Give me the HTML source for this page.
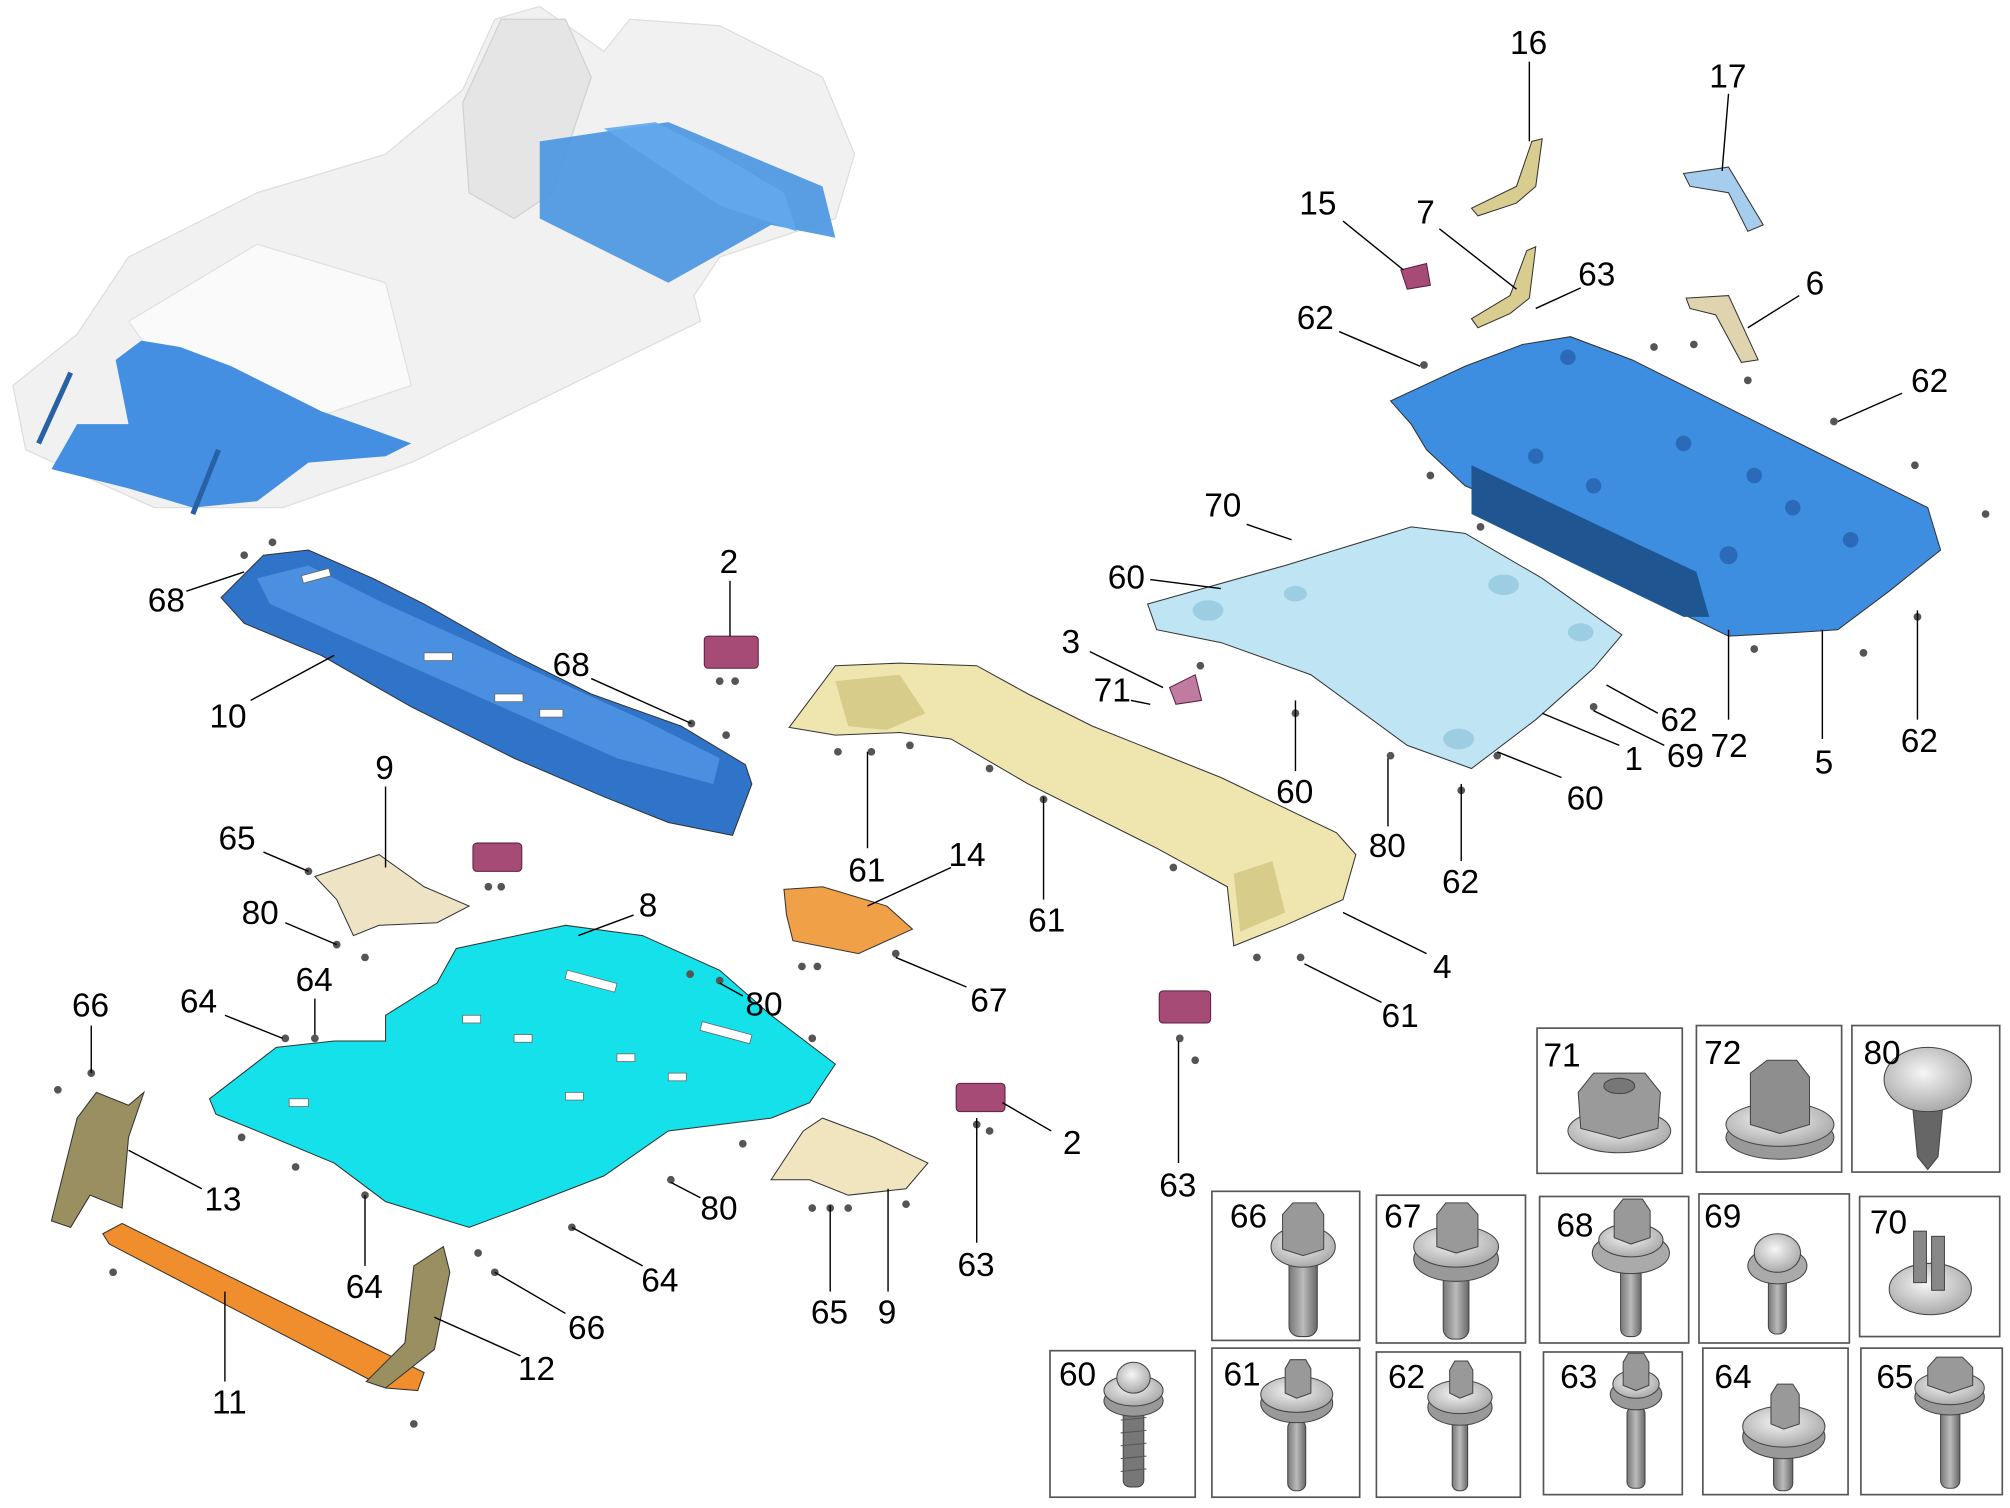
<!DOCTYPE html>
<html><head><meta charset="utf-8"><style>
html,body{margin:0;padding:0;background:#fff;}
svg{display:block}
text{font-family:"Liberation Sans",Arial,sans-serif;font-size:26px;fill:#000}
.l{stroke:#000;stroke-width:1.1;fill:none}
.box{fill:#fff;stroke:#555;stroke-width:1.3}
.p{stroke:#333;stroke-width:0.8}
.h{fill:#fff;stroke:#666;stroke-width:0.6}
.b{fill:#555}
</style></head><body>
<svg width="2010" height="1508" viewBox="0 0 1564 1173.4" xmlns="http://www.w3.org/2000/svg">
<defs>
<linearGradient id="met" x1="0" x2="1"><stop offset="0" stop-color="#777"/><stop offset="0.5" stop-color="#bbb"/><stop offset="1" stop-color="#666"/></linearGradient>
<radialGradient id="wash" cx="0.45" cy="0.4" r="0.6"><stop offset="0" stop-color="#f6f6f6"/><stop offset="1" stop-color="#aaa"/></radialGradient>
</defs>

<!-- car body -->
<g opacity="0.95">
<polygon points="10,300 60,260 100,200 200,150 300,120 360,70 385,15 420,5 470,40 490,15 560,20 640,60 665,120 650,170 560,200 540,230 545,250 320,360 220,395 120,395 20,350" fill="#f1f1f1" stroke="#ddd"/>
<polygon points="360,80 390,15 440,15 460,60 430,150 400,170 365,150" fill="#e4e4e4" stroke="#d0d0d0"/>
<polygon points="100,250 200,190 300,220 320,300 230,330 150,320" fill="#fafafa" stroke="#e0e0e0"/>
<polygon points="420,110 520,95 640,145 650,185 600,175 520,220 480,200 420,170" fill="#3f8fe0" opacity="0.9"/>
<polygon points="470,100 510,95 560,120 610,150 620,180 560,160" fill="#5aa4ec" opacity="0.9"/>
<polygon points="40,365 60,330 100,330 90,280 110,265 140,270 180,285 250,320 320,345 300,355 240,360 200,390 150,395 100,380" fill="#3a8ae0"/>
<line x1="30" y1="345" x2="55" y2="290" stroke="#1d5aa0" stroke-width="4"/>
<line x1="150" y1="400" x2="170" y2="350" stroke="#1d5aa0" stroke-width="4"/>
</g>

<!-- part 10 -->
<polygon class="p" points="172,465 205,432 240,428 290,450 330,470 400,510 460,540 530,565 580,595 585,610 570,650 520,640 470,620 400,590 320,550 250,510 190,485" fill="#2f74c8"/>
<polygon points="200,450 240,440 300,470 500,560 560,590 555,610 480,590 300,510 210,470" fill="#4a8fe0"/>
<g class="h"><rect x="235" y="445" width="22" height="6" transform="rotate(-15 246 448)"/><rect x="330" y="508" width="22" height="6"/><rect x="385" y="540" width="22" height="6"/><rect x="420" y="552" width="18" height="6"/></g>
<!-- part 5 -->
<polygon class="p" points="1082,312 1140,285 1185,268 1222,262 1270,280 1330,310 1400,345 1460,375 1500,395 1510,428 1470,460 1430,490 1400,492 1345,495 1310,478 1290,450 1240,420 1180,395 1140,378 1110,350 1098,330" fill="#3d8de0"/>
<polygon points="1145,362 1320,445 1330,480 1310,480 1145,400" fill="#1f5590"/>
<g fill="#2a6ab8"><circle cx="1220" cy="278" r="6"/><circle cx="1195" cy="355" r="6"/><circle cx="1240" cy="378" r="6"/><circle cx="1310" cy="345" r="6"/><circle cx="1365" cy="370" r="6"/><circle cx="1345" cy="432" r="7"/><circle cx="1395" cy="395" r="6"/><circle cx="1440" cy="420" r="6"/></g>
<!-- part 1 -->
<polygon class="p" points="893,470 1000,440 1098,410 1140,415 1200,450 1262,494 1240,520 1195,560 1145,598 1095,580 1020,525 950,500 900,490" fill="#bfe4f4"/>
<g fill="#9ccde3"><ellipse cx="940" cy="475" rx="12" ry="8"/><ellipse cx="1170" cy="455" rx="12" ry="8"/><ellipse cx="1135" cy="575" rx="12" ry="8"/><ellipse cx="1230" cy="492" rx="10" ry="7"/><ellipse cx="1008" cy="462" rx="9" ry="6"/></g>
<!-- part 4 -->
<polygon class="p" points="614,566 650,518 700,516 760,518 800,540 850,565 950,605 1040,648 1055,665 1045,700 1000,720 960,736 955,690 900,660 800,610 740,575 700,570 650,572" fill="#efe5ae"/>
<polygon points="650,530 700,525 720,555 690,568 660,565" fill="#d8cc8a"/>
<polygon points="960,680 990,670 1000,710 965,725" fill="#d8cc8a"/>
<!-- part 8 -->
<polygon class="p" points="163,855 215,815 260,810 300,810 300,790 340,765 355,738 440,720 500,728 560,755 600,790 650,828 630,858 600,870 520,880 470,915 400,942 365,955 300,935 260,905 200,880 168,867" fill="#14e1ea"/>
<g class="h"><rect x="440" y="760" width="40" height="7" transform="rotate(15 460 763)"/><rect x="545" y="800" width="40" height="7" transform="rotate(15 565 803)"/><rect x="225" y="855" width="15" height="6"/><rect x="480" y="820" width="14" height="6"/><rect x="520" y="835" width="14" height="6"/><rect x="440" y="850" width="14" height="6"/><rect x="360" y="790" width="14" height="6"/><rect x="400" y="805" width="14" height="6"/></g>
<!-- part 9 -->
<polygon class="p" points="245,682 295,665 330,690 365,705 340,718 295,720 275,728 262,700" fill="#efe3c6"/>
<polygon class="p" points="600,918 625,880 640,870 680,885 722,905 705,925 660,930 630,918" fill="#f1e5c0"/>
<!-- part 14 -->
<polygon class="p" points="610,692 640,690 690,705 710,723 668,742 617,732 612,712" fill="#f0a047"/>
<!-- parts 2 etc -->
<g fill="#a64b76" stroke="#5a2040" stroke-width="0.8">
<rect x="548" y="495" width="42" height="25" rx="3"/>
<rect x="368" y="656" width="38" height="22" rx="3"/>
<rect x="744" y="843" width="38" height="22" rx="3"/>
<rect x="902" y="771" width="40" height="25" rx="3"/>
<polygon points="1090,210 1110,205 1113,222 1095,225"/>
<polygon points="910,535 930,525 935,545 915,548" fill="#c07ba0"/>
</g>
<!-- brackets -->
<polygon class="p" points="1145,162 1180,145 1192,110 1200,108 1195,145 1180,158 1150,168" fill="#d9cc8f"/>
<polygon class="p" points="1145,248 1175,230 1188,195 1195,192 1190,232 1175,244 1150,255" fill="#d9cc8f"/>
<polygon class="p" points="1310,135 1345,130 1372,175 1360,180 1345,150 1315,145" fill="#a6ccee"/>
<polygon class="p" points="1312,232 1345,230 1368,280 1355,282 1335,245 1315,240" fill="#e0d3b0"/>
<!-- 11,12,13 -->
<polygon class="p" points="80,960 95,952 330,1068 325,1082 300,1080 85,968" fill="#f08d2c"/>
<polygon class="p" points="40,950 60,870 75,850 100,860 112,850 100,885 95,940 70,930 55,955" fill="#9a8f60"/>
<polygon class="p" points="285,1075 315,1045 322,985 345,970 350,990 338,1050 300,1080" fill="#9a8f60"/>

<!-- small fasteners -->
<g class="b">
<circle cx="190" cy="432" r="3"/><circle cx="212" cy="422" r="3"/><circle cx="538" cy="563" r="3"/><circle cx="565" cy="572" r="3"/>
<circle cx="560" cy="530" r="3"/><circle cx="572" cy="530" r="3"/><circle cx="380" cy="690" r="3"/><circle cx="390" cy="690" r="3"/>
<circle cx="652" cy="585" r="3"/><circle cx="678" cy="585" r="3"/><circle cx="708" cy="580" r="3"/><circle cx="770" cy="598" r="3"/><circle cx="812" cy="622" r="3"/><circle cx="913" cy="675" r="3"/><circle cx="978" cy="745" r="3"/><circle cx="1012" cy="745" r="3"/>
<circle cx="934" cy="518" r="3"/><circle cx="1008" cy="555" r="3"/><circle cx="1082" cy="588" r="3"/><circle cx="1137" cy="615" r="3"/><circle cx="1165" cy="588" r="3"/><circle cx="1240" cy="550" r="3"/>
<circle cx="1113" cy="370" r="3"/><circle cx="1152" cy="410" r="3"/><circle cx="1365" cy="505" r="3"/><circle cx="1450" cy="508" r="3"/><circle cx="1492" cy="480" r="3"/><circle cx="1545" cy="400" r="3"/><circle cx="1490" cy="362" r="3"/><circle cx="1108" cy="284" r="3"/><circle cx="1427" cy="328" r="3"/><circle cx="1360" cy="296" r="3"/><circle cx="1318" cy="268" r="3"/><circle cx="1287" cy="270" r="3"/>
<circle cx="624" cy="752" r="3"/><circle cx="636" cy="752" r="3"/><circle cx="697" cy="742" r="3"/><circle cx="918" cy="808" r="3"/><circle cx="930" cy="825" r="3"/>
<circle cx="760" cy="875" r="3"/><circle cx="770" cy="880" r="3"/><circle cx="632" cy="940" r="3"/><circle cx="646" cy="940" r="3"/><circle cx="660" cy="940" r="3"/><circle cx="705" cy="937" r="3"/>
<circle cx="240" cy="678" r="3"/><circle cx="262" cy="735" r="3"/><circle cx="284" cy="745" r="3"/><circle cx="222" cy="808" r="3"/><circle cx="245" cy="808" r="3"/><circle cx="188" cy="885" r="3"/><circle cx="230" cy="908" r="3"/><circle cx="284" cy="930" r="3"/><circle cx="445" cy="955" r="3"/><circle cx="522" cy="918" r="3"/><circle cx="578" cy="890" r="3"/><circle cx="537" cy="758" r="3"/><circle cx="560" cy="763" r="3"/><circle cx="632" cy="808" r="3"/>
<circle cx="71" cy="835" r="3"/><circle cx="45" cy="848" r="3"/><circle cx="88" cy="990" r="3"/><circle cx="322" cy="1108" r="3"/><circle cx="385" cy="990" r="3"/><circle cx="372" cy="975" r="3"/>
</g>

<!-- leader lines -->
<g class="l">
<line x1="1190" y1="48" x2="1190" y2="110"/>
<line x1="1345" y1="73" x2="1340" y2="133"/>
<line x1="1045" y1="172" x2="1092" y2="210"/>
<line x1="1120" y1="178" x2="1180" y2="225"/>
<line x1="1230" y1="224" x2="1195" y2="240"/>
<line x1="1400" y1="230" x2="1360" y2="255"/>
<line x1="1042" y1="258" x2="1105" y2="285"/>
<line x1="1480" y1="306" x2="1430" y2="328"/>
<line x1="970" y1="408" x2="1005" y2="420"/>
<line x1="895" y1="451" x2="950" y2="458"/>
<line x1="848" y1="507" x2="905" y2="535"/>
<line x1="880" y1="545" x2="895" y2="548"/>
<line x1="1290" y1="555" x2="1250" y2="533"/>
<line x1="1295" y1="580" x2="1240" y2="553"/>
<line x1="1345" y1="560" x2="1345" y2="490"/>
<line x1="1260" y1="580" x2="1200" y2="555"/>
<line x1="1418" y1="575" x2="1418" y2="490"/>
<line x1="1492" y1="560" x2="1492" y2="475"/>
<line x1="1008" y1="600" x2="1008" y2="545"/>
<line x1="1215" y1="605" x2="1165" y2="585"/>
<line x1="1080" y1="643" x2="1080" y2="590"/>
<line x1="1137" y1="670" x2="1137" y2="610"/>
<line x1="1110" y1="742" x2="1045" y2="710"/>
<line x1="1075" y1="780" x2="1015" y2="750"/>
<line x1="675" y1="660" x2="675" y2="585"/>
<line x1="812" y1="700" x2="812" y2="620"/>
<line x1="740" y1="675" x2="675" y2="705"/>
<line x1="752" y1="768" x2="697" y2="745"/>
<line x1="917" y1="905" x2="917" y2="810"/>
<line x1="568" y1="452" x2="568" y2="495"/>
<line x1="145" y1="460" x2="190" y2="445"/>
<line x1="460" y1="528" x2="538" y2="563"/>
<line x1="195" y1="545" x2="260" y2="510"/>
<line x1="300" y1="612" x2="300" y2="675"/>
<line x1="205" y1="663" x2="240" y2="678"/>
<line x1="222" y1="718" x2="262" y2="735"/>
<line x1="493" y1="712" x2="450" y2="728"/>
<line x1="578" y1="775" x2="560" y2="765"/>
<line x1="245" y1="777" x2="245" y2="805"/>
<line x1="175" y1="790" x2="220" y2="808"/>
<line x1="71" y1="798" x2="71" y2="835"/>
<line x1="157" y1="925" x2="100" y2="895"/>
<line x1="545" y1="932" x2="522" y2="920"/>
<line x1="818" y1="880" x2="780" y2="858"/>
<line x1="760" y1="967" x2="760" y2="870"/>
<line x1="284" y1="985" x2="284" y2="930"/>
<line x1="500" y1="985" x2="445" y2="955"/>
<line x1="440" y1="1022" x2="385" y2="990"/>
<line x1="646" y1="1005" x2="646" y2="938"/>
<line x1="691" y1="1005" x2="691" y2="925"/>
<line x1="405" y1="1055" x2="338" y2="1025"/>
<line x1="175" y1="1075" x2="175" y2="1005"/>
</g>

<!-- detail boxes -->
<g>
<rect class="box" x="1196" y="800" width="113" height="113"/>
<rect class="box" x="1320" y="798" width="113" height="114"/>
<rect class="box" x="1441" y="798" width="115" height="114"/>
<rect class="box" x="943" y="927" width="115" height="116"/>
<rect class="box" x="1071" y="930" width="116" height="115"/>
<rect class="box" x="1198" y="931" width="116" height="114"/>
<rect class="box" x="1322" y="929" width="117" height="116"/>
<rect class="box" x="1447" y="931" width="109" height="109"/>
<rect class="box" x="817" y="1051" width="113" height="114"/>
<rect class="box" x="943" y="1049" width="115" height="116"/>
<rect class="box" x="1071" y="1052" width="112" height="113"/>
<rect class="box" x="1201" y="1052" width="108" height="111"/>
<rect class="box" x="1325" y="1049" width="113" height="114"/>
<rect class="box" x="1448" y="1049" width="110" height="114"/>
</g>
<!-- fasteners -->
<g stroke="#444" stroke-width="0.8">
<ellipse cx="1260" cy="880" rx="40" ry="17" fill="url(#wash)"/>
<polygon points="1228,850 1240,835 1280,835 1292,850 1290,878 1260,886 1230,878" fill="#9a9a9a"/>
<ellipse cx="1260" cy="845" rx="12" ry="6" fill="#777"/>
<ellipse cx="1385" cy="885" rx="42" ry="17" fill="#999"/>
<ellipse cx="1385" cy="875" rx="42" ry="17" fill="url(#wash)"/>
<polygon points="1362,835 1375,825 1398,825 1408,838 1408,875 1385,882 1362,875" fill="#8e8e8e"/>
<polygon points="1488,858 1512,858 1508,900 1500,910 1492,900" fill="#666"/>
<ellipse cx="1500" cy="840" rx="34" ry="25" fill="url(#wash)"/>
<!-- 66 -->
<rect x="1003" y="975" width="22" height="65" rx="8" fill="url(#met)"/>
<ellipse cx="1014" cy="970" rx="25" ry="16" fill="url(#wash)"/>
<polygon points="998,945 1006,936 1024,936 1030,945 1030,972 1014,977 998,972" fill="#999"/>
<!-- 67 -->
<rect x="1123" y="985" width="20" height="57" rx="8" fill="url(#met)"/>
<ellipse cx="1133" cy="980" rx="33" ry="17" fill="#999"/>
<ellipse cx="1133" cy="970" rx="33" ry="16" fill="url(#wash)"/>
<polygon points="1118,945 1125,936 1142,936 1150,945 1150,970 1133,975 1118,970" fill="#999"/>
<!-- 68 -->
<rect x="1261" y="985" width="16" height="55" rx="6" fill="url(#met)"/>
<ellipse cx="1269" cy="975" rx="30" ry="16" fill="#aaa"/>
<ellipse cx="1269" cy="965" rx="25" ry="13" fill="url(#wash)"/>
<polygon points="1256,942 1263,933 1278,933 1284,942 1284,963 1269,968 1256,963" fill="#999"/>
<!-- 69 -->
<rect x="1376" y="990" width="14" height="48" rx="6" fill="url(#met)"/>
<ellipse cx="1383" cy="985" rx="23" ry="14" fill="#aaa"/>
<ellipse cx="1383" cy="975" rx="18" ry="15" fill="url(#wash)"/>
<!-- 70 -->
<ellipse cx="1502" cy="1003" rx="32" ry="20" fill="url(#wash)"/>
<rect x="1489" y="958" width="10" height="40" fill="#888"/>
<rect x="1503" y="962" width="10" height="42" fill="#888"/>
<!-- 60 -->
<rect x="874" y="1095" width="16" height="62" rx="5" fill="#777"/>
<g stroke="#555">
<line x1="872" y1="1105" x2="892" y2="1103"/><line x1="872" y1="1115" x2="892" y2="1113"/><line x1="872" y1="1125" x2="892" y2="1123"/><line x1="872" y1="1135" x2="892" y2="1133"/><line x1="872" y1="1145" x2="892" y2="1143"/>
</g>
<ellipse cx="882" cy="1090" rx="23" ry="12" fill="#999"/>
<ellipse cx="882" cy="1082" rx="23" ry="12" fill="url(#wash)"/>
<ellipse cx="882" cy="1072" rx="13" ry="12" fill="url(#wash)"/>
<!-- 61 -->
<rect x="1002" y="1105" width="14" height="55" rx="6" fill="url(#met)"/>
<ellipse cx="1009" cy="1092" rx="28" ry="15" fill="#999"/>
<ellipse cx="1009" cy="1085" rx="28" ry="14" fill="url(#wash)"/>
<polygon points="1000,1065 1004,1058 1016,1058 1020,1065 1020,1084 1009,1088 1000,1084" fill="#999"/>
<!-- 62 -->
<rect x="1130" y="1100" width="12" height="60" rx="5" fill="url(#met)"/>
<ellipse cx="1136" cy="1095" rx="25" ry="14" fill="#999"/>
<ellipse cx="1136" cy="1087" rx="25" ry="13" fill="url(#wash)"/>
<polygon points="1128,1066 1132,1059 1142,1059 1146,1066 1146,1084 1136,1088 1128,1084" fill="#999"/>
<!-- 63 -->
<rect x="1266" y="1095" width="14" height="63" rx="5" fill="url(#met)"/>
<ellipse cx="1273" cy="1085" rx="20" ry="12" fill="#999"/>
<ellipse cx="1273" cy="1077" rx="18" ry="11" fill="url(#wash)"/>
<polygon points="1263,1060 1267,1053 1279,1053 1283,1060 1283,1078 1273,1082 1263,1078" fill="#999"/>
<!-- 64 -->
<rect x="1380" y="1125" width="15" height="35" rx="6" fill="url(#met)"/>
<ellipse cx="1388" cy="1118" rx="32" ry="17" fill="#999"/>
<ellipse cx="1388" cy="1110" rx="32" ry="16" fill="url(#wash)"/>
<polygon points="1378,1085 1383,1077 1395,1077 1400,1085 1400,1108 1388,1112 1378,1108" fill="#999"/>
<!-- 65 -->
<rect x="1510" y="1095" width="15" height="63" rx="6" fill="url(#met)"/>
<ellipse cx="1517" cy="1087" rx="27" ry="14" fill="#999"/>
<ellipse cx="1517" cy="1080" rx="27" ry="13" fill="url(#wash)"/>
<polygon points="1500,1064 1507,1056 1527,1056 1535,1064 1535,1078 1517,1084 1500,1078" fill="#999"/>
</g>

<!-- labels -->
<g>
<text x="1175" y="42">16</text><text x="1330" y="68">17</text><text x="1011" y="167">15</text>
<text x="1102" y="174">7</text><text x="1228" y="222">63</text><text x="1405" y="229">6</text>
<text x="1009" y="256">62</text><text x="1487" y="305">62</text><text x="937" y="402">70</text>
<text x="862" y="458">60</text><text x="826" y="508">3</text><text x="851" y="546">71</text>
<text x="1292" y="569">62</text><text x="1297" y="597">69</text><text x="1331" y="589">72</text>
<text x="1264" y="599">1</text><text x="1412" y="602">5</text><text x="1479" y="585">62</text>
<text x="993" y="625">60</text><text x="1219" y="630">60</text><text x="1065" y="667">80</text>
<text x="1122" y="695">62</text><text x="1115" y="761">4</text><text x="1075" y="799">61</text>
<text x="660" y="686">61</text><text x="800" y="725">61</text><text x="738" y="674">14</text>
<text x="755" y="787">67</text><text x="902" y="931">63</text><text x="560" y="446">2</text>
<text x="115" y="476">68</text><text x="430" y="526">68</text><text x="163" y="566">10</text>
<text x="292" y="606">9</text><text x="170" y="661">65</text><text x="188" y="719">80</text>
<text x="497" y="713">8</text><text x="580" y="790">80</text><text x="230" y="771">64</text>
<text x="140" y="788">64</text><text x="56" y="791">66</text><text x="159" y="942">13</text>
<text x="545" y="949">80</text><text x="827" y="898">2</text><text x="745" y="993">63</text>
<text x="269" y="1010">64</text><text x="499" y="1005">64</text><text x="442" y="1042">66</text>
<text x="631" y="1030">65</text><text x="683" y="1030">9</text><text x="403" y="1074">12</text>
<text x="165" y="1100">11</text>
<text x="1201" y="830">71</text><text x="1326" y="828">72</text><text x="1450" y="828">80</text>
<text x="957" y="955">66</text><text x="1077" y="955">67</text><text x="1211" y="962">68</text>
<text x="1326" y="955">69</text><text x="1455" y="960">70</text>
<text x="824" y="1078">60</text><text x="952" y="1078">61</text><text x="1080" y="1080">62</text>
<text x="1214" y="1080">63</text><text x="1334" y="1080">64</text><text x="1460" y="1080">65</text>
</g>
</svg>
</body></html>
